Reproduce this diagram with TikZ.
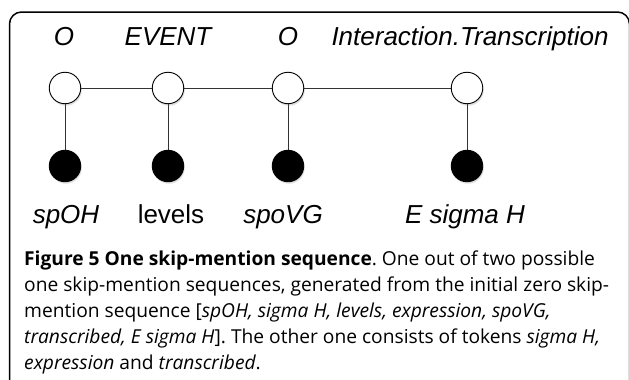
\documentclass[tikz,border=0pt]{standalone}
\usepackage{fontspec}
\setmainfont{Open Sans}
\newfontfamily\labfont{Liberation Sans}
\usetikzlibrary{shadows}
\frenchspacing
\begin{document}
\begin{tikzpicture}[x=1pt,y=-1pt,
  wnode/.style={circle, draw=black, line width=0.9pt, fill=white, minimum size=31.5pt, inner sep=0pt,
    drop shadow={shadow xshift=1pt, shadow yshift=-2pt, opacity=0.25}},
  bnode/.style={circle, draw=black, line width=0.9pt, fill=black, minimum size=31.5pt, inner sep=0pt,
    drop shadow={shadow xshift=1pt, shadow yshift=-2pt, opacity=0.25}},
  toplbl/.style={font=\labfont\fontsize{26}{30}\selectfont\itshape, anchor=base, inner sep=0pt},
  botlbl/.style={font=\labfont\fontsize{26}{30}\selectfont, anchor=base, inner sep=0pt},
  capline/.style={font=\frenchspacing\fontsize{19.2}{26}\selectfont, anchor=base west, inner sep=0pt},
  conn/.style={draw=black!80, line width=1pt}]
\useasboundingbox (0,0) rectangle (629,380);
\begin{scope}
  \clip (0,0) rectangle (629,380);
  \draw[line width=1.5pt, rounded corners=12pt] (9.5,12) rectangle (629.5,400);
\end{scope}
% top labels
\node[toplbl] (t1) at (64,45) {O};
\node[toplbl] (t2) at (168,45) {EVENT};
\node[toplbl] (t3) at (288,45) {O};
\node[toplbl] (t4) at (470,45) {Interaction.Transcription};
% connector end points
\coordinate (cw1) at (65,88);
\coordinate (cw2) at (168,88);
\coordinate (cw3) at (288,88);
\coordinate (cw4) at (467,88);
\coordinate (cb1) at (65,166);
\coordinate (cb2) at (168,166);
\coordinate (cb3) at (288,166);
\coordinate (cb4) at (467,166);
\draw[conn] (cw1) -- (cw4);
\draw[conn] (cw1) -- (cb1);
\draw[conn] (cw2) -- (cb2);
\draw[conn] (cw3) -- (cb3);
\draw[conn] (cw4) -- (cb4);
% nodes
\node[wnode] (w1) at (cw1) {};
\node[wnode] (w2) at (cw2) {};
\node[wnode] (w3) at (cw3) {};
\node[wnode] (w4) at (cw4) {};
\node[bnode] (b1) at (cb1) {};
\node[bnode] (b2) at (cb2) {};
\node[bnode] (b3) at (cb3) {};
\node[bnode] (b4) at (cb4) {};
% bottom labels
\node[botlbl] (l1) at (66,223) {\itshape spOH};
\node[botlbl] (l2) at (171,223) {levels};
\node[botlbl] (l3) at (283,223) {\itshape spoVG};
\node[botlbl] (l4) at (465,223) {\itshape E sigma H};
% caption
\node[capline] (c1) at (24,265) {\textbf{Figure 5 One skip-mention sequence}. One out of two possible};
\node[capline] (c2) at (24,291) {one skip-mention sequences, generated from the initial zero skip-};
\node[capline] (c3) at (24,317) {mention sequence [\textit{spOH, sigma H, levels, expression, spoVG,}};
\node[capline] (c4) at (24,343) {\textit{transcribed, E sigma H}]. The other one consists of tokens \textit{sigma H,}};
\node[capline] (c5) at (24,369) {\textit{expression} and \textit{transcribed}.};
\end{tikzpicture}
\end{document}
